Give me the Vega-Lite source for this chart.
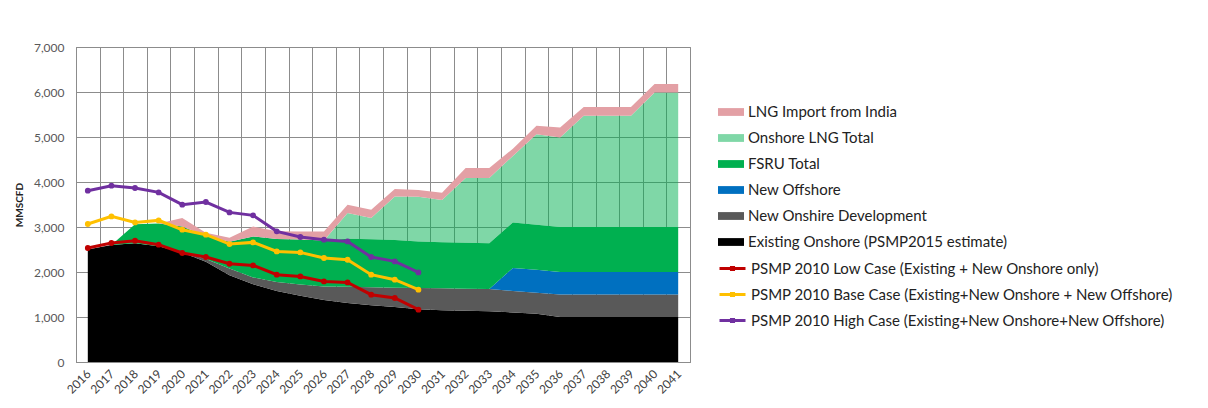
{
  "$schema": "https://vega.github.io/schema/vega-lite/v6.json",
  "autosize": {"type": "none"},
  "padding": {"left": 76, "top": 47, "right": 518, "bottom": 46},
  "width": 614,
  "height": 315,
  "background": "white",
  "config": {
    "font": "Lato",
    "view": {"stroke": "#8c8c8c", "strokeWidth": 1},
    "axis": {"gridColor": "#8c8c8c", "gridOpacity": 1, "domainColor": "#8c8c8c", "ticks": false}
  },
  "datasets": {
    "seriesOrder": [
      {"series": "Existing Onshore (PSMP2015 estimate)", "rank": 1},
      {"series": "New Onshire Development", "rank": 2},
      {"series": "New Offshore", "rank": 3},
      {"series": "FSRU Total", "rank": 4},
      {"series": "Onshore LNG Total", "rank": 5},
      {"series": "LNG Import from India", "rank": 6}
    ],
    "areas": [
      {"year": "2016", "series": "Existing Onshore (PSMP2015 estimate)", "value": 2500},
      {"year": "2017", "series": "Existing Onshore (PSMP2015 estimate)", "value": 2600},
      {"year": "2018", "series": "Existing Onshore (PSMP2015 estimate)", "value": 2640},
      {"year": "2019", "series": "Existing Onshore (PSMP2015 estimate)", "value": 2570},
      {"year": "2020", "series": "Existing Onshore (PSMP2015 estimate)", "value": 2430},
      {"year": "2021", "series": "Existing Onshore (PSMP2015 estimate)", "value": 2230},
      {"year": "2022", "series": "Existing Onshore (PSMP2015 estimate)", "value": 1930},
      {"year": "2023", "series": "Existing Onshore (PSMP2015 estimate)", "value": 1730},
      {"year": "2024", "series": "Existing Onshore (PSMP2015 estimate)", "value": 1580},
      {"year": "2025", "series": "Existing Onshore (PSMP2015 estimate)", "value": 1470},
      {"year": "2026", "series": "Existing Onshore (PSMP2015 estimate)", "value": 1380},
      {"year": "2027", "series": "Existing Onshore (PSMP2015 estimate)", "value": 1310},
      {"year": "2028", "series": "Existing Onshore (PSMP2015 estimate)", "value": 1260},
      {"year": "2029", "series": "Existing Onshore (PSMP2015 estimate)", "value": 1220},
      {"year": "2030", "series": "Existing Onshore (PSMP2015 estimate)", "value": 1170},
      {"year": "2031", "series": "Existing Onshore (PSMP2015 estimate)", "value": 1150},
      {"year": "2032", "series": "Existing Onshore (PSMP2015 estimate)", "value": 1140},
      {"year": "2033", "series": "Existing Onshore (PSMP2015 estimate)", "value": 1130},
      {"year": "2034", "series": "Existing Onshore (PSMP2015 estimate)", "value": 1100},
      {"year": "2035", "series": "Existing Onshore (PSMP2015 estimate)", "value": 1070},
      {"year": "2036", "series": "Existing Onshore (PSMP2015 estimate)", "value": 1000},
      {"year": "2037", "series": "Existing Onshore (PSMP2015 estimate)", "value": 1000},
      {"year": "2038", "series": "Existing Onshore (PSMP2015 estimate)", "value": 1000},
      {"year": "2039", "series": "Existing Onshore (PSMP2015 estimate)", "value": 1000},
      {"year": "2040", "series": "Existing Onshore (PSMP2015 estimate)", "value": 1000},
      {"year": "2041", "series": "Existing Onshore (PSMP2015 estimate)", "value": 1000},

      {"year": "2016", "series": "New Onshire Development", "value": 0},
      {"year": "2017", "series": "New Onshire Development", "value": 0},
      {"year": "2018", "series": "New Onshire Development", "value": 0},
      {"year": "2019", "series": "New Onshire Development", "value": 0},
      {"year": "2020", "series": "New Onshire Development", "value": 10},
      {"year": "2021", "series": "New Onshire Development", "value": 60},
      {"year": "2022", "series": "New Onshire Development", "value": 150},
      {"year": "2023", "series": "New Onshire Development", "value": 150},
      {"year": "2024", "series": "New Onshire Development", "value": 200},
      {"year": "2025", "series": "New Onshire Development", "value": 250},
      {"year": "2026", "series": "New Onshire Development", "value": 300},
      {"year": "2027", "series": "New Onshire Development", "value": 360},
      {"year": "2028", "series": "New Onshire Development", "value": 400},
      {"year": "2029", "series": "New Onshire Development", "value": 430},
      {"year": "2030", "series": "New Onshire Development", "value": 475},
      {"year": "2031", "series": "New Onshire Development", "value": 490},
      {"year": "2032", "series": "New Onshire Development", "value": 490},
      {"year": "2033", "series": "New Onshire Development", "value": 495},
      {"year": "2034", "series": "New Onshire Development", "value": 480},
      {"year": "2035", "series": "New Onshire Development", "value": 470},
      {"year": "2036", "series": "New Onshire Development", "value": 500},
      {"year": "2037", "series": "New Onshire Development", "value": 500},
      {"year": "2038", "series": "New Onshire Development", "value": 500},
      {"year": "2039", "series": "New Onshire Development", "value": 500},
      {"year": "2040", "series": "New Onshire Development", "value": 500},
      {"year": "2041", "series": "New Onshire Development", "value": 500},

      {"year": "2016", "series": "New Offshore", "value": 0},
      {"year": "2017", "series": "New Offshore", "value": 0},
      {"year": "2018", "series": "New Offshore", "value": 0},
      {"year": "2019", "series": "New Offshore", "value": 0},
      {"year": "2020", "series": "New Offshore", "value": 0},
      {"year": "2021", "series": "New Offshore", "value": 0},
      {"year": "2022", "series": "New Offshore", "value": 0},
      {"year": "2023", "series": "New Offshore", "value": 0},
      {"year": "2024", "series": "New Offshore", "value": 0},
      {"year": "2025", "series": "New Offshore", "value": 0},
      {"year": "2026", "series": "New Offshore", "value": 0},
      {"year": "2027", "series": "New Offshore", "value": 0},
      {"year": "2028", "series": "New Offshore", "value": 0},
      {"year": "2029", "series": "New Offshore", "value": 0},
      {"year": "2030", "series": "New Offshore", "value": 0},
      {"year": "2031", "series": "New Offshore", "value": 0},
      {"year": "2032", "series": "New Offshore", "value": 0},
      {"year": "2033", "series": "New Offshore", "value": 0},
      {"year": "2034", "series": "New Offshore", "value": 510},
      {"year": "2035", "series": "New Offshore", "value": 510},
      {"year": "2036", "series": "New Offshore", "value": 500},
      {"year": "2037", "series": "New Offshore", "value": 500},
      {"year": "2038", "series": "New Offshore", "value": 500},
      {"year": "2039", "series": "New Offshore", "value": 500},
      {"year": "2040", "series": "New Offshore", "value": 500},
      {"year": "2041", "series": "New Offshore", "value": 500},

      {"year": "2016", "series": "FSRU Total", "value": 0},
      {"year": "2017", "series": "FSRU Total", "value": 0},
      {"year": "2018", "series": "FSRU Total", "value": 420},
      {"year": "2019", "series": "FSRU Total", "value": 510},
      {"year": "2020", "series": "FSRU Total", "value": 570},
      {"year": "2021", "series": "FSRU Total", "value": 510},
      {"year": "2022", "series": "FSRU Total", "value": 590},
      {"year": "2023", "series": "FSRU Total", "value": 910},
      {"year": "2024", "series": "FSRU Total", "value": 955},
      {"year": "2025", "series": "FSRU Total", "value": 1000},
      {"year": "2026", "series": "FSRU Total", "value": 1020},
      {"year": "2027", "series": "FSRU Total", "value": 1070},
      {"year": "2028", "series": "FSRU Total", "value": 1070},
      {"year": "2029", "series": "FSRU Total", "value": 1060},
      {"year": "2030", "series": "FSRU Total", "value": 1035},
      {"year": "2031", "series": "FSRU Total", "value": 1020},
      {"year": "2032", "series": "FSRU Total", "value": 1020},
      {"year": "2033", "series": "FSRU Total", "value": 1015},
      {"year": "2034", "series": "FSRU Total", "value": 1010},
      {"year": "2035", "series": "FSRU Total", "value": 1000},
      {"year": "2036", "series": "FSRU Total", "value": 1000},
      {"year": "2037", "series": "FSRU Total", "value": 1000},
      {"year": "2038", "series": "FSRU Total", "value": 1000},
      {"year": "2039", "series": "FSRU Total", "value": 1000},
      {"year": "2040", "series": "FSRU Total", "value": 1000},
      {"year": "2041", "series": "FSRU Total", "value": 1000},

      {"year": "2016", "series": "Onshore LNG Total", "value": 0},
      {"year": "2017", "series": "Onshore LNG Total", "value": 0},
      {"year": "2018", "series": "Onshore LNG Total", "value": 0},
      {"year": "2019", "series": "Onshore LNG Total", "value": 0},
      {"year": "2020", "series": "Onshore LNG Total", "value": 0},
      {"year": "2021", "series": "Onshore LNG Total", "value": 0},
      {"year": "2022", "series": "Onshore LNG Total", "value": 0},
      {"year": "2023", "series": "Onshore LNG Total", "value": 0},
      {"year": "2024", "series": "Onshore LNG Total", "value": 0},
      {"year": "2025", "series": "Onshore LNG Total", "value": 0},
      {"year": "2026", "series": "Onshore LNG Total", "value": 0},
      {"year": "2027", "series": "Onshore LNG Total", "value": 570},
      {"year": "2028", "series": "Onshore LNG Total", "value": 470},
      {"year": "2029", "series": "Onshore LNG Total", "value": 970},
      {"year": "2030", "series": "Onshore LNG Total", "value": 990},
      {"year": "2031", "series": "Onshore LNG Total", "value": 940},
      {"year": "2032", "series": "Onshore LNG Total", "value": 1440},
      {"year": "2033", "series": "Onshore LNG Total", "value": 1450},
      {"year": "2034", "series": "Onshore LNG Total", "value": 1480},
      {"year": "2035", "series": "Onshore LNG Total", "value": 2010},
      {"year": "2036", "series": "Onshore LNG Total", "value": 1990},
      {"year": "2037", "series": "Onshore LNG Total", "value": 2470},
      {"year": "2038", "series": "Onshore LNG Total", "value": 2470},
      {"year": "2039", "series": "Onshore LNG Total", "value": 2470},
      {"year": "2040", "series": "Onshore LNG Total", "value": 2990},
      {"year": "2041", "series": "Onshore LNG Total", "value": 2990},

      {"year": "2016", "series": "LNG Import from India", "value": 0},
      {"year": "2017", "series": "LNG Import from India", "value": 0},
      {"year": "2018", "series": "LNG Import from India", "value": 0},
      {"year": "2019", "series": "LNG Import from India", "value": 0},
      {"year": "2020", "series": "LNG Import from India", "value": 190},
      {"year": "2021", "series": "LNG Import from India", "value": 70},
      {"year": "2022", "series": "LNG Import from India", "value": 90},
      {"year": "2023", "series": "LNG Import from India", "value": 220},
      {"year": "2024", "series": "LNG Import from India", "value": 170},
      {"year": "2025", "series": "LNG Import from India", "value": 180},
      {"year": "2026", "series": "LNG Import from India", "value": 200},
      {"year": "2027", "series": "LNG Import from India", "value": 185},
      {"year": "2028", "series": "LNG Import from India", "value": 185},
      {"year": "2029", "series": "LNG Import from India", "value": 165},
      {"year": "2030", "series": "LNG Import from India", "value": 150},
      {"year": "2031", "series": "LNG Import from India", "value": 160},
      {"year": "2032", "series": "LNG Import from India", "value": 220},
      {"year": "2033", "series": "LNG Import from India", "value": 220},
      {"year": "2034", "series": "LNG Import from India", "value": 160},
      {"year": "2035", "series": "LNG Import from India", "value": 190},
      {"year": "2036", "series": "LNG Import from India", "value": 220},
      {"year": "2037", "series": "LNG Import from India", "value": 195},
      {"year": "2038", "series": "LNG Import from India", "value": 195},
      {"year": "2039", "series": "LNG Import from India", "value": 195},
      {"year": "2040", "series": "LNG Import from India", "value": 190},
      {"year": "2041", "series": "LNG Import from India", "value": 190}
    ],
    "lines": [
      {"year": "2016", "series": "PSMP 2010 Low Case (Existing + New Onshore only)", "value": 2533},
      {"year": "2017", "series": "PSMP 2010 Low Case (Existing + New Onshore only)", "value": 2644},
      {"year": "2018", "series": "PSMP 2010 Low Case (Existing + New Onshore only)", "value": 2696},
      {"year": "2019", "series": "PSMP 2010 Low Case (Existing + New Onshore only)", "value": 2607},
      {"year": "2020", "series": "PSMP 2010 Low Case (Existing + New Onshore only)", "value": 2422},
      {"year": "2021", "series": "PSMP 2010 Low Case (Existing + New Onshore only)", "value": 2333},
      {"year": "2022", "series": "PSMP 2010 Low Case (Existing + New Onshore only)", "value": 2184},
      {"year": "2023", "series": "PSMP 2010 Low Case (Existing + New Onshore only)", "value": 2147},
      {"year": "2024", "series": "PSMP 2010 Low Case (Existing + New Onshore only)", "value": 1940},
      {"year": "2025", "series": "PSMP 2010 Low Case (Existing + New Onshore only)", "value": 1902},
      {"year": "2026", "series": "PSMP 2010 Low Case (Existing + New Onshore only)", "value": 1791},
      {"year": "2027", "series": "PSMP 2010 Low Case (Existing + New Onshore only)", "value": 1769},
      {"year": "2028", "series": "PSMP 2010 Low Case (Existing + New Onshore only)", "value": 1496},
      {"year": "2029", "series": "PSMP 2010 Low Case (Existing + New Onshore only)", "value": 1422},
      {"year": "2030", "series": "PSMP 2010 Low Case (Existing + New Onshore only)", "value": 1162},

      {"year": "2016", "series": "PSMP 2010 Base Case (Existing+New Onshore + New Offshore)", "value": 3067},
      {"year": "2017", "series": "PSMP 2010 Base Case (Existing+New Onshore + New Offshore)", "value": 3236},
      {"year": "2018", "series": "PSMP 2010 Base Case (Existing+New Onshore + New Offshore)", "value": 3102},
      {"year": "2019", "series": "PSMP 2010 Base Case (Existing+New Onshore + New Offshore)", "value": 3147},
      {"year": "2020", "series": "PSMP 2010 Base Case (Existing+New Onshore + New Offshore)", "value": 2940},
      {"year": "2021", "series": "PSMP 2010 Base Case (Existing+New Onshore + New Offshore)", "value": 2829},
      {"year": "2022", "series": "PSMP 2010 Base Case (Existing+New Onshore + New Offshore)", "value": 2620},
      {"year": "2023", "series": "PSMP 2010 Base Case (Existing+New Onshore + New Offshore)", "value": 2658},
      {"year": "2024", "series": "PSMP 2010 Base Case (Existing+New Onshore + New Offshore)", "value": 2458},
      {"year": "2025", "series": "PSMP 2010 Base Case (Existing+New Onshore + New Offshore)", "value": 2436},
      {"year": "2026", "series": "PSMP 2010 Base Case (Existing+New Onshore + New Offshore)", "value": 2311},
      {"year": "2027", "series": "PSMP 2010 Base Case (Existing+New Onshore + New Offshore)", "value": 2273},
      {"year": "2028", "series": "PSMP 2010 Base Case (Existing+New Onshore + New Offshore)", "value": 1940},
      {"year": "2029", "series": "PSMP 2010 Base Case (Existing+New Onshore + New Offshore)", "value": 1829},
      {"year": "2030", "series": "PSMP 2010 Base Case (Existing+New Onshore + New Offshore)", "value": 1607},

      {"year": "2016", "series": "PSMP 2010 High Case (Existing+New Onshore+New Offshore)", "value": 3807},
      {"year": "2017", "series": "PSMP 2010 High Case (Existing+New Onshore+New Offshore)", "value": 3918},
      {"year": "2018", "series": "PSMP 2010 High Case (Existing+New Onshore+New Offshore)", "value": 3867},
      {"year": "2019", "series": "PSMP 2010 High Case (Existing+New Onshore+New Offshore)", "value": 3769},
      {"year": "2020", "series": "PSMP 2010 High Case (Existing+New Onshore+New Offshore)", "value": 3496},
      {"year": "2021", "series": "PSMP 2010 High Case (Existing+New Onshore+New Offshore)", "value": 3555},
      {"year": "2022", "series": "PSMP 2010 High Case (Existing+New Onshore+New Offshore)", "value": 3325},
      {"year": "2023", "series": "PSMP 2010 High Case (Existing+New Onshore+New Offshore)", "value": 3259},
      {"year": "2024", "series": "PSMP 2010 High Case (Existing+New Onshore+New Offshore)", "value": 2903},
      {"year": "2025", "series": "PSMP 2010 High Case (Existing+New Onshore+New Offshore)", "value": 2777},
      {"year": "2026", "series": "PSMP 2010 High Case (Existing+New Onshore+New Offshore)", "value": 2718},
      {"year": "2027", "series": "PSMP 2010 High Case (Existing+New Onshore+New Offshore)", "value": 2680},
      {"year": "2028", "series": "PSMP 2010 High Case (Existing+New Onshore+New Offshore)", "value": 2333},
      {"year": "2029", "series": "PSMP 2010 High Case (Existing+New Onshore+New Offshore)", "value": 2236},
      {"year": "2030", "series": "PSMP 2010 High Case (Existing+New Onshore+New Offshore)", "value": 1991}
    ]
  },
  "encoding": {
    "x": {
      "field": "year",
      "type": "ordinal",
      "bandPosition": 0.5,
      "scale": {"type": "band", "paddingInner": 0, "paddingOuter": 0},
      "axis": {
        "title": null,
        "labelAngle": -45,
        "labelFontSize": 12,
        "labelColor": "#404040",
        "tickBand": "extent",
        "grid": true,
        "labelPadding": 6,
        "labelOffset": -3
      }
    },
    "y": {
      "field": "value",
      "type": "quantitative",
      "scale": {"domain": [0, 7000], "nice": false},
      "axis": {
        "title": "MMSCFD",
        "titleFontSize": 10,
        "titleFontWeight": "bold",
        "titleColor": "#222222",
        "titlePadding": 9,
        "values": [0, 1000, 2000, 3000, 4000, 5000, 6000, 7000],
        "format": ",d",
        "labelFontSize": 12,
        "labelColor": "#595959",
        "labelPadding": 12,
        "grid": true
      }
    }
  },
  "layer": [
    {
      "data": {"name": "areas"},
      "transform": [
        {"lookup": "series", "from": {"data": {"name": "seriesOrder"}, "key": "series", "fields": ["rank"]}}
      ],
      "mark": {"type": "area", "opacity": 1},
      "encoding": {
        "y": {"field": "value", "type": "quantitative", "stack": "zero"},
        "order": {"field": "rank", "type": "quantitative", "sort": "ascending"},
        "fill": {
          "field": "series",
          "type": "nominal",
          "scale": {
            "domain": ["LNG Import from India", "Onshore LNG Total", "FSRU Total", "New Offshore", "New Onshire Development", "Existing Onshore (PSMP2015 estimate)"],
            "range": ["#e3a0a5", "rgba(0,176,80,0.5)", "#00b050", "#0070c0", "#595959", "#000000"]
          },
          "legend": {
            "title": null,
            "orient": "none",
            "legendX": 642,
            "legendY": 52,
            "padding": 0,
            "symbolType": "M-1,-0.3H1V0.3H-1Z",
            "symbolSize": 676,
            "symbolStrokeWidth": 0,
            "symbolOpacity": 1,
            "labelFontSize": 15,
            "labelColor": "#222222",
            "labelOffset": 4,
            "labelLimit": 600,
            "rowPadding": 5
          }
        }
      }
    },
    {
      "data": {"name": "lines"},
      "mark": {"type": "line", "strokeWidth": 3},
      "encoding": {
        "stroke": {
          "field": "series",
          "type": "nominal",
          "scale": {
            "domain": ["PSMP 2010 Low Case (Existing + New Onshore only)", "PSMP 2010 Base Case (Existing+New Onshore + New Offshore)", "PSMP 2010 High Case (Existing+New Onshore+New Offshore)"],
            "range": ["#c00000", "#ffc000", "#7030a0"]
          },
          "legend": {
            "title": null,
            "orient": "none",
            "legendX": 642,
            "legendY": 207,
            "padding": 0,
            "symbolType": "M-1,0H1M-0.08,-0.08H0.08V0.08H-0.08Z",
            "symbolSize": 676,
            "symbolStrokeWidth": 3,
            "labelFontSize": 15,
            "labelColor": "#222222",
            "labelOffset": 4,
            "labelLimit": 600,
            "rowPadding": 3
          }
        }
      }
    },
    {
      "data": {"name": "lines"},
      "mark": {"type": "point", "filled": false, "strokeWidth": 3, "size": 8, "opacity": 1},
      "encoding": {
        "stroke": {"field": "series", "type": "nominal", "legend": null}
      }
    }
  ]
}
